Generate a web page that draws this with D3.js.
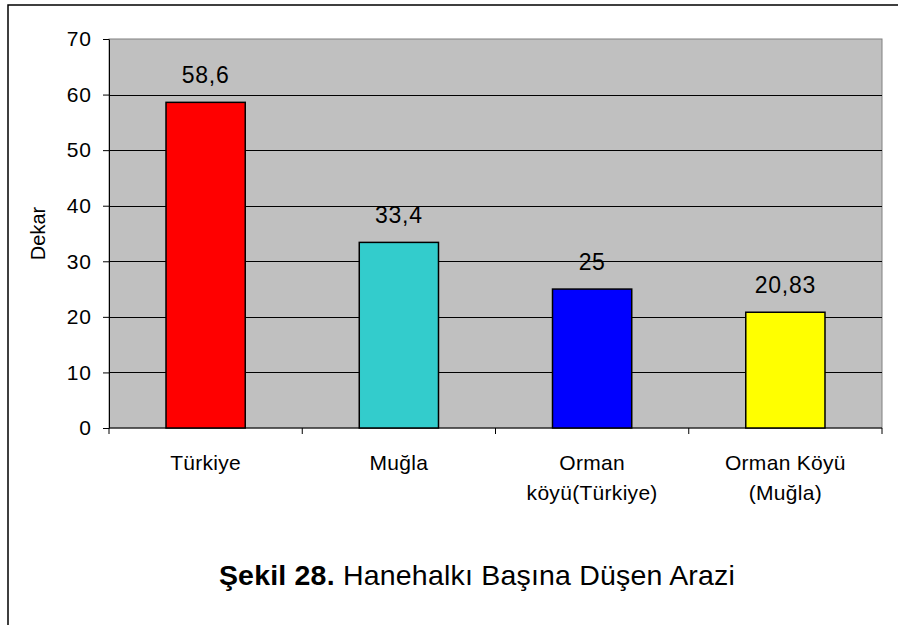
<!DOCTYPE html>
<html>
<head>
<meta charset="utf-8">
<script src="https://cdn.jsdelivr.net/npm/d3@7"></script>
<style>
  html, body { margin: 0; padding: 0; background: #fff; }
  svg { display: block; font-family: "Liberation Sans", Arial, sans-serif; }
</style>
</head>
<body>
<div id="app"></div>
<script>
// chart data
const categories = ['Türkiye', 'Muğla', 'Orman köyü(Türkiye)', 'Orman Köyü (Muğla)'];
const categoryLines = [['Türkiye'], ['Muğla'], ['Orman', 'köyü(Türkiye)'], ['Orman Köyü', '(Muğla)']];
const values = [58.6, 33.4, 25, 20.83];
const valueLabels = ['58,6', '33,4', '25', '20,83'];
const barColors = ['#ff0000', '#33cccc', '#0000ff', '#ffff00'];
const yTicks = [0, 10, 20, 30, 40, 50, 60, 70];

const width = 898, height = 625;
const margin = { top: 39, right: 16, bottom: 197, left: 109 };

const svg = d3.select('#app').append('svg')
  .attr('width', width)
  .attr('height', height);

// outer frame (only top and left edges visible)
svg.append('path')
  .attr('d', `M8,${height + 2}V5H${width + 2}`)
  .attr('fill', 'none')
  .attr('stroke', '#000')
  .attr('stroke-width', 1.5);

const x = d3.scaleBand()
  .domain(categories)
  .range([margin.left, width - margin.right])
  .paddingInner(0.59)
  .paddingOuter(0.295);

const y = d3.scaleLinear()
  .domain([0, 70])
  .range([height - margin.bottom, margin.top]);

// plot area
svg.append('rect')
  .attr('x', margin.left)
  .attr('y', margin.top)
  .attr('width', width - margin.right - margin.left)
  .attr('height', y(0) - margin.top)
  .attr('fill', '#c0c0c0')
  .attr('stroke', '#808080')
  .attr('stroke-width', 1);

// gridlines
svg.append('g')
  .selectAll('line')
  .data(yTicks.filter(d => d > 0 && d < 70))
  .join('line')
  .attr('x1', margin.left)
  .attr('x2', width - margin.right)
  .attr('y1', d => Math.round(y(d)) + 0.5)
  .attr('y2', d => Math.round(y(d)) + 0.5)
  .attr('stroke', '#000')
  .attr('stroke-width', 1);

// y axis
const yAxis = svg.append('g')
  .attr('transform', `translate(${margin.left},0)`)
  .call(d3.axisLeft(y).tickValues(yTicks).tickSize(6).tickPadding(11).tickSizeOuter(0));
yAxis.select('.domain').attr('stroke', '#000');
yAxis.selectAll('.tick text')
  .attr('font-size', 21)
  .attr('letter-spacing', 1)
  .attr('font-family', '"Liberation Sans", Arial, sans-serif')
  .attr('fill', '#000');

// x axis: ticks at category boundaries
const xAxisG = svg.append('g');
xAxisG.append('line')
  .attr('x1', margin.left).attr('x2', width - margin.right)
  .attr('y1', y(0)).attr('y2', y(0))
  .attr('stroke', '#000');
const boundaries = d3.range(categories.length + 1).map(i => margin.left + i * x.step());
xAxisG.selectAll('line.tick')
  .data(boundaries)
  .join('line')
  .attr('class', 'tick')
  .attr('x1', d => d).attr('x2', d => d)
  .attr('y1', y(0)).attr('y2', y(0) + 6)
  .attr('stroke', '#000');

// bars
svg.append('g')
  .selectAll('rect')
  .data(values)
  .join('rect')
  .attr('x', (d, i) => x(categories[i]))
  .attr('y', d => y(d))
  .attr('width', x.bandwidth())
  .attr('height', d => y(0) - y(d))
  .attr('fill', (d, i) => barColors[i])
  .attr('stroke', '#000')
  .attr('stroke-width', 1.5);

// value labels
svg.append('g')
  .selectAll('text')
  .data(values)
  .join('text')
  .attr('x', (d, i) => x(categories[i]) + x.bandwidth() / 2)
  .attr('y', d => y(d) - 19)
  .attr('text-anchor', 'middle')
  .attr('font-size', 23)
  .attr('letter-spacing', 0.7)
  .text((d, i) => valueLabels[i]);

// category labels
const catG = svg.append('g')
  .selectAll('text')
  .data(categoryLines)
  .join('text')
  .attr('text-anchor', 'middle')
  .attr('font-size', 21)
  .attr('letter-spacing', 0.3)
  .attr('transform', (d, i) => `translate(${x(categories[i]) + x.bandwidth() / 2},0)`);
catG.selectAll('tspan')
  .data(d => d)
  .join('tspan')
  .attr('x', 0)
  .attr('y', (d, i) => 470 + i * 30)
  .text(d => d);

// y axis title
svg.append('text')
  .attr('transform', `translate(45,${(y(0) + y(70)) / 2}) rotate(-90)`)
  .attr('text-anchor', 'middle')
  .attr('font-size', 20)
  .text('Dekar');

// figure caption
const caption = svg.append('text')
  .attr('x', 477)
  .attr('y', 585)
  .attr('text-anchor', 'middle')
  .attr('font-size', 28.5)
  .attr('letter-spacing', 0.2);
caption.append('tspan').attr('font-weight', 'bold').text('Şekil 28.');
caption.append('tspan').text(' Hanehalkı Başına Düşen Arazi');
</script>
</body>
</html>
